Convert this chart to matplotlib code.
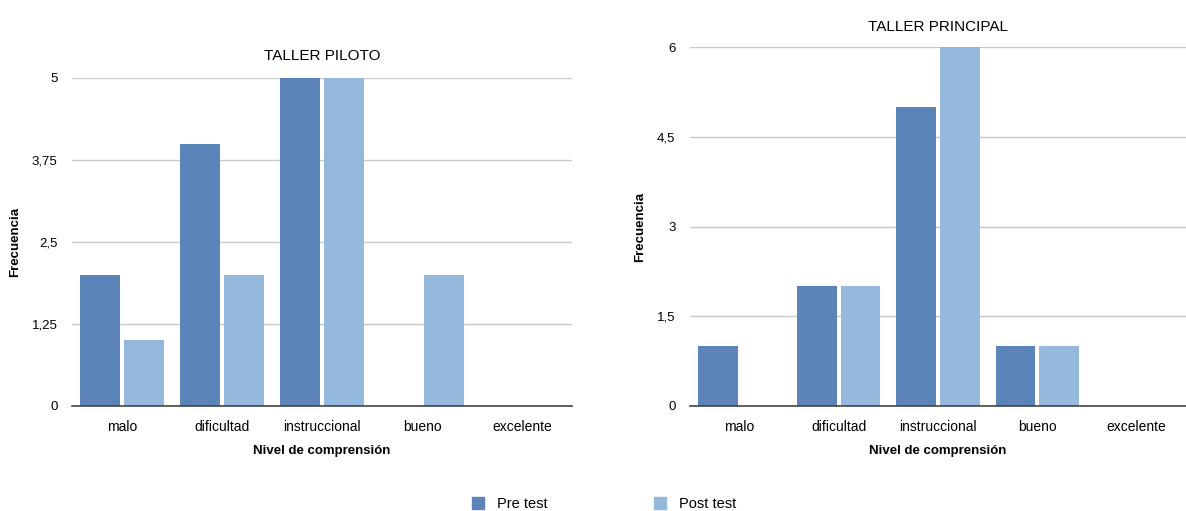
import matplotlib.pyplot as plt
import numpy as np

plt.rcParams["font.family"] = ["Liberation Sans", "DejaVu Sans"]

# ── Data ──────────────────────────────────────────────────────────────────────

niveles = ["malo", "dificultad", "instruccional", "bueno", "excelente"]

piloto_pre  = [2, 4, 5, 0, 0]
piloto_post = [1, 2, 5, 2, 0]

principal_pre  = [1, 2, 5, 1, 0]
principal_post = [0, 2, 6, 1, 0]

piloto_ticks    = [0, 1.25, 2.5, 3.75, 5]
principal_ticks = [0, 1.5, 3, 4.5, 6]

# ── Style ─────────────────────────────────────────────────────────────────────

PRE_COLOR  = "#5b85b8"
POST_COLOR = "#95b9dc"
GRID_COLOR = "#c9c9c9"
W, H = 1186, 511


def fmt(v):
    return f"{v:g}".replace(".", ",")


def draw_panel(ax, pre, post, ticks, title, title_y):
    x = np.arange(len(niveles))
    ax.bar(x - 0.22, pre, width=0.4, color=PRE_COLOR, zorder=3)
    ax.bar(x + 0.22, post, width=0.4, color=POST_COLOR, zorder=3)
    ax.set_xlim(-0.5, len(niveles) - 0.5)
    ax.set_ylim(0, ticks[-1])
    ax.set_yticks(ticks)
    ax.set_yticklabels([fmt(t) for t in ticks], fontsize=9.5)
    ax.set_xticks(x)
    ax.set_xticklabels(niveles, fontsize=10)
    ax.tick_params(length=0, pad=10)
    ax.tick_params(axis="y", pad=10.5)
    ax.grid(axis="y", color=GRID_COLOR, linewidth=1, zorder=0)
    for s in ["top", "right", "left"]:
        ax.spines[s].set_visible(False)
    ax.spines["bottom"].set_color("#444444")
    ax.spines["bottom"].set_linewidth(1.2)
    ax.spines["bottom"].set_zorder(4)
    ax.set_xlabel("Nivel de comprensión", fontsize=9.5, fontweight="bold", labelpad=8)
    ax.set_ylabel("Frecuencia", fontsize=9.5, fontweight="bold")
    ax.set_title(title, fontsize=11, y=title_y, pad=0)


fig = plt.figure(figsize=(W / 100, H / 100), dpi=100)

ax1 = fig.add_axes([72 / W, 1 - 406 / H, 500 / W, (406 - 78) / H])
ax2 = fig.add_axes([690 / W, 1 - 406 / H, 496 / W, (406 - 47) / H])

draw_panel(ax1, piloto_pre, piloto_post, piloto_ticks, "TALLER PILOTO", 1.055)
draw_panel(ax2, principal_pre, principal_post, principal_ticks, "TALLER PRINCIPAL", 1.045)
ax1.yaxis.set_label_coords((21 - 72) / 500, 0.5)
ax2.yaxis.set_label_coords((646 - 690) / 496, 0.5)

# ── Legend ────────────────────────────────────────────────────────────────────

for color, label, x0 in [(PRE_COLOR, "Pre test", 472), (POST_COLOR, "Post test", 654)]:
    fig.legend([plt.Rectangle((0, 0), 1, 1, color=color)], [label],
               loc="center left", bbox_to_anchor=(x0 / W, 1 - 504 / H),
               frameon=False, fontsize=10.5, borderpad=0, borderaxespad=0,
               handlelength=0.85, handleheight=0.85, handletextpad=0.85)

fig.savefig("out.png", dpi=100)
